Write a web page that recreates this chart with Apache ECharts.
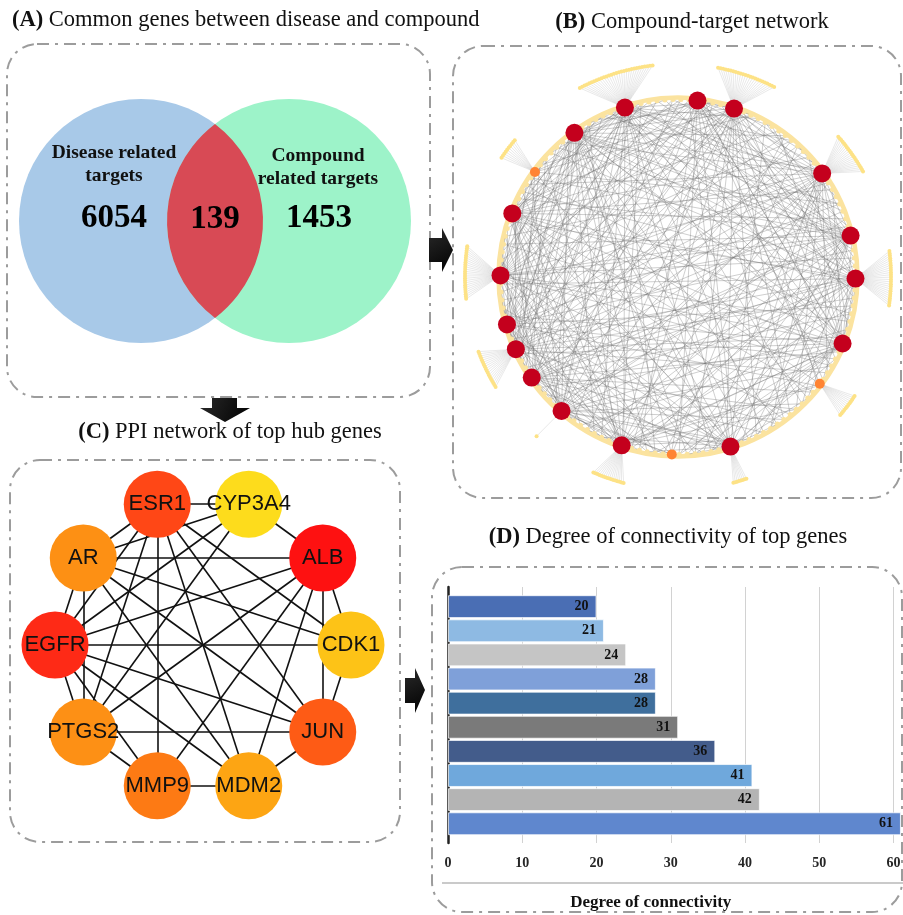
<!DOCTYPE html>
<html>
<head>
<meta charset="utf-8">
<script src="https://cdn.jsdelivr.net/npm/echarts@6/dist/echarts.min.js"></script>
<style>
html, body { margin: 0; padding: 0; background: #ffffff; }
#main { width: 903px; height: 915px; }
</style>
</head>
<body>
<div id="main"></div>
<script>
// ---------- (A) overlap of target sets ----------
const vennSetNames = ['Disease related\ntargets', 'Compound\nrelated targets'];
const vennOnlyCounts = [6054, 1453];
const vennSharedCount = 139;

// ---------- (B) compound-target network ----------
const ringTargetCount = 139;
const compoundNames = ['M1', 'M2', 'M3', 'M4', 'M5', 'M6', 'M7', 'M8', 'M9', 'M10', 'M11', 'M12', 'M13', 'M14', 'M15', 'M16'];
const minorCompoundNames = ['N1', 'N2', 'N3'];
// ring targets (by index) that each compound is linked to
const compoundTargets = [
  [3, 8, 12, 19, 24, 30, 46, 52, 58, 61, 66, 75, 79, 83, 88, 94, 97, 101, 108, 115, 121, 127, 133],
  [1, 6, 15, 22, 27, 49, 55, 63, 70, 77, 86, 90, 99, 104, 111, 118, 125, 130, 136],
  [2, 10, 17, 25, 33, 45, 54, 60, 67, 73, 80, 85, 92, 98, 103, 106, 110, 114, 119, 124, 128, 135],
  [0, 4, 9, 14, 20, 26, 31, 36, 39, 62, 68, 74, 78, 81, 87, 93, 96, 100, 105, 109, 113, 117, 122, 131, 137],
  [5, 18, 28, 35, 41, 44, 50, 57, 64, 71, 76, 82, 89, 95, 102, 107, 112, 116, 120, 126, 132],
  [7, 11, 16, 21, 29, 34, 38, 42, 47, 53, 84, 91, 97, 101, 106, 111, 118, 123, 129, 134, 138],
  [23, 32, 37, 40, 43, 48, 51, 56, 59, 65, 69, 72, 83, 87, 93, 99, 104, 108, 113, 116, 121],
  [2, 6, 12, 19, 25, 30, 35, 40, 45, 50, 55, 59, 64, 88, 95, 103, 110, 119, 127, 133],
  [14, 22, 29, 36, 43, 52, 58, 62, 70, 77, 81, 86, 92, 98, 105, 114, 122, 125, 130],
  [3, 9, 15, 20, 27, 33, 39, 46, 51, 57, 63, 68, 72, 80, 89, 96, 100, 124, 128, 135],
  [1, 8, 13, 18, 24, 31, 37, 44, 49, 54, 60, 66, 71, 75, 82, 107, 117, 126, 131, 136],
  [0, 5, 10, 17, 23, 28, 34, 41, 47, 53, 61, 67, 73, 78, 85, 90, 94, 102, 109, 115, 120, 123, 129, 134],
  [4, 11, 16, 21, 26, 32, 38, 42, 48, 56, 65, 69, 74, 79, 84, 91, 97, 101, 104, 106, 108, 111, 137],
  [7, 13, 19, 27, 35, 40, 49, 56, 61, 64, 70, 76, 83, 99, 103, 112, 118, 121, 127, 132, 138],
  [2, 12, 20, 30, 39, 46, 53, 58, 62, 67, 74, 81, 87, 92, 113, 120, 124, 130, 135],
  [6, 14, 23, 33, 41, 50, 55, 60, 68, 73, 77, 85, 88, 94, 100, 105, 117, 122, 128]
];
const minorCompoundTargets = [
  [9, 25, 44, 80],
  [31, 57, 96],
  [18, 47, 89]
];
// compounds with extra targets that only they hit, and how many
const fanHosts = ['M1', 'M3', 'N1', 'M5', 'M8', 'M9', 'M11', 'N2', 'M15', 'M16', 'M14'];
const fanLeafCounts = [30, 24, 10, 20, 24, 24, 18, 12, 16, 8, 1];

// ---------- (C) PPI network of hub genes ----------
const ppiGenes = ['ESR1', 'CYP3A4', 'ALB', 'CDK1', 'JUN', 'MDM2', 'MMP9', 'PTGS2', 'EGFR', 'AR'];
const ppiInteractions = [
  ['ESR1', 'CYP3A4'], ['ESR1', 'AR'], ['ESR1', 'EGFR'], ['ESR1', 'PTGS2'], ['ESR1', 'MMP9'],
  ['ESR1', 'MDM2'], ['ESR1', 'JUN'], ['ESR1', 'CDK1'],
  ['CYP3A4', 'ALB'], ['CYP3A4', 'EGFR'], ['CYP3A4', 'PTGS2'], ['CYP3A4', 'AR'],
  ['ALB', 'AR'], ['ALB', 'EGFR'], ['ALB', 'CDK1'], ['ALB', 'JUN'], ['ALB', 'MDM2'], ['ALB', 'MMP9'], ['ALB', 'PTGS2'],
  ['CDK1', 'EGFR'], ['CDK1', 'JUN'], ['CDK1', 'AR'],
  ['JUN', 'PTGS2'], ['JUN', 'MDM2'], ['JUN', 'EGFR'], ['JUN', 'AR'],
  ['MDM2', 'MMP9'], ['MDM2', 'EGFR'], ['MDM2', 'AR'],
  ['MMP9', 'PTGS2'], ['MMP9', 'EGFR'],
  ['PTGS2', 'EGFR'], ['PTGS2', 'AR'],
  ['EGFR', 'AR']
];

// ---------- (D) degree of the top genes ----------
const degreeRanks = ['#10', '#9', '#8', '#7', '#6', '#5', '#4', '#3', '#2', '#1'];
const degreeValues = [20, 21, 24, 28, 28, 31, 36, 41, 42, 61];
const degreeTicks = [0, 10, 20, 30, 40, 50, 60];

// ================= styling & layout =================
const SERIF = '"Liberation Serif", "Times New Roman", serif';
const SANS = '"Liberation Sans", Arial, sans-serif';
const TITLE_SIZE = 22.5;

const vennFills = ['#A8C9E8', '#9DF3C9'];
const vennSharedFill = '#D84A55';
const vennRadius = 122;

// angular placement of the compounds on the network ring (degrees, counter-clockwise from east)
const compoundAngles = [107.4, 83.7, 71.6, 125.7, 35.7, 159, 13.5, 179.5, 359.5, 195.5, 204, 214.5, 338, 229, 251.5, 287.2];
const minorCompoundAngles = [143.7, 323, 268];
const fanSpans = [[96.5, 117.8], [62.8, 79.5], [139.7, 146.3], [29.4, 41.5], [171.4, 186.2], [-8, 7.3],
                  [200.2, 211.4], [-40.7, -33.7], [246.3, 255.5], [284.8, 289], [228.4, 228.4]];

const ppiColors = {
  ESR1: '#FF4716', CYP3A4: '#FDDC1C', ALB: '#FE1111', CDK1: '#FDC317', JUN: '#FE5B15',
  MDM2: '#FDA513', MMP9: '#FD7A14', PTGS2: '#FD9015', EGFR: '#FE2A16', AR: '#FD9014'
};
const barColors = ['#4A6EB4', '#8EBAE3', '#C5C5C5', '#7FA0D9', '#3F6F9D', '#7A7A7A', '#435C8B', '#6FA8DC', '#B4B4B4', '#5F87CE'];
const ringColor = '#FBE39F';
const leafColor = '#FDE286';

// ---------- build network (B) ----------
const norm = a => ((a % 360) + 360) % 360;
const netNodes = [];
const netLinks = [];
for (let i = 0; i < ringTargetCount; i++) {
  netNodes.push({ name: 'T' + i, value: [1, norm(i * 360 / ringTargetCount + 1)], symbolSize: 5,
                  itemStyle: { color: ringColor } });
}
fanHosts.forEach((host, f) => {
  const n = fanLeafCounts[f];
  const [a0, a1] = fanSpans[f];
  for (let j = 0; j < n; j++) {
    const name = 'L' + f + '_' + j;
    netNodes.push({ name, value: [1.2, norm(a0 + (a1 - a0) * (j + 0.5) / n)], symbolSize: 4,
                    itemStyle: { color: leafColor } });
    netLinks.push({ source: host, target: name, lineStyle: { color: '#c4c4c4', opacity: 0.55, width: 0.7 } });
  }
});
minorCompoundNames.forEach((name, k) => {
  netNodes.push({ name, value: [1, norm(minorCompoundAngles[k])], symbolSize: 10, itemStyle: { color: '#FF8433' } });
  minorCompoundTargets[k].forEach(t => netLinks.push({ source: name, target: 'T' + t }));
});
compoundNames.forEach((name, k) => {
  netNodes.push({ name, value: [1, norm(compoundAngles[k])], symbolSize: 18, itemStyle: { color: '#C4001D' } });
  compoundTargets[k].forEach(t => netLinks.push({ source: name, target: 'T' + t }));
});

// ---------- build PPI (C) ----------
const ppiNodes = ppiGenes.map((g, i) => ({
  name: g, value: [1, i], symbolSize: 67, itemStyle: { color: ppiColors[g] }
}));
const ppiLinks = ppiInteractions.map(([s, t]) => ({ source: s, target: t }));

// ---------- decorative frames, arrows and panel titles ----------
function frame(x, y, w, h) {
  return { type: 'rect', silent: true, z: -1,
    shape: { x, y, width: w, height: h, r: 30 },
    style: { fill: 'none', stroke: '#9c9c9c', lineWidth: 2, lineDash: [12, 6, 3, 6] } };
}
function arrow(points) {
  return { type: 'polygon', silent: true,
    shape: { points },
    style: { fill: new echarts.graphic.LinearGradient(0, 0, 1, 1, [
      { offset: 0, color: '#2a2a2a' }, { offset: 1, color: '#000000' }]) } };
}
function panelTitle(tag, text, x, y, align) {
  return { type: 'text', silent: true, x, y,
    style: { text: '{b|' + tag + '} ' + text, align, verticalAlign: 'middle',
      fontFamily: SERIF, fontSize: TITLE_SIZE, fill: '#111',
      rich: { b: { fontFamily: SERIF, fontSize: TITLE_SIZE, fontWeight: 'bold', fill: '#111' } } } };
}

const chart = echarts.init(document.getElementById('main'), null, { renderer: 'canvas' });

const option = {
  animation: false,
  backgroundColor: '#ffffff',
  graphic: [
    frame(7, 44, 423, 353),
    frame(453, 46, 448, 452),
    frame(10, 460, 390, 382),
    frame(432, 567, 470, 345),
    arrow([[429, 238], [442, 238], [442, 228], [453, 250], [442, 272], [442, 262], [429, 262]]),
    arrow([[212, 398], [237, 398], [237, 408], [250, 408], [225, 422], [200, 408], [212, 408]]),
    arrow([[405, 678], [415, 678], [415, 668], [425, 690], [415, 713], [415, 703], [405, 703]]),
    panelTitle('(A)', 'Common genes between disease and compound', 12, 20, 'left'),
    panelTitle('(B)', 'Compound-target network', 692, 22, 'center'),
    panelTitle('(C)', 'PPI network of top hub genes', 230, 432, 'center'),
    panelTitle('(D)', 'Degree of connectivity of top genes', 668, 537, 'center'),
    { type: 'line', silent: true, shape: { x1: 442, y1: 883, x2: 903, y2: 883 },
      style: { stroke: '#cacaca', lineWidth: 2 } }
  ],
  grid: [
    // Venn canvas: x = 0 is the disease set centre, x = 1 the compound set centre
    { left: 141, width: 148, top: 99, height: 244, outerBoundsMode: 'none' },
    // bar-chart frame (axis line, ticks and grid lines)
    { left: 448, right: 9.5, top: 587, height: 256, outerBoundsMode: 'none' },
    // bars
    { left: 448, right: 9.5, top: 594.6, height: 241.2, outerBoundsMode: 'none' }
  ],
  xAxis: [
    { gridIndex: 0, type: 'value', min: 0, max: 1, show: false },
    { gridIndex: 1, type: 'value', min: degreeTicks[0], max: degreeTicks[degreeTicks.length - 1], interval: 10,
      axisLine: { show: false }, axisTick: { show: false },
      axisLabel: { margin: 13, fontFamily: SERIF, fontSize: 14, fontWeight: 'bold', color: '#262626' },
      splitLine: { show: true, lineStyle: { color: '#d2d2d2', width: 1 } },
      name: 'Degree of connectivity', nameLocation: 'middle', nameGap: 51,
      nameTextStyle: { fontFamily: SERIF, fontSize: 17, fontWeight: 'bold', color: '#111', padding: [0, 40, 0, 0] } },
    { gridIndex: 2, type: 'value', min: 0, max: 60, show: false }
  ],
  yAxis: [
    { gridIndex: 0, type: 'value', min: -1, max: 1, show: false },
    { gridIndex: 1, type: 'value', min: 0, max: 1,
      axisLine: { show: true, lineStyle: { color: '#222', width: 2.5 } },
      axisTick: { show: false }, axisLabel: { show: false }, splitLine: { show: false } },
    { gridIndex: 2, type: 'category', data: degreeRanks, inverse: true, show: false }
  ],
  polar: [
    { center: [678, 277], radius: 213 },
    { center: [203, 645], radius: 148 },
    // pale ring along which the shared targets sit
    { center: [678, 277], radius: 179.5 }
  ],
  angleAxis: [
    { polarIndex: 0, type: 'value', min: 0, max: 360, startAngle: 0, clockwise: false, show: false },
    { polarIndex: 1, type: 'value', min: 0, max: ppiGenes.length, startAngle: 108, clockwise: true, show: false },
    { polarIndex: 2, type: 'value', min: 0, max: 360, startAngle: 0, clockwise: false, silent: true,
      axisLine: { show: true, lineStyle: { color: ringColor, width: 4.5 } },
      axisTick: { show: false }, axisLabel: { show: false }, splitLine: { show: false } }
  ],
  radiusAxis: [
    { polarIndex: 0, type: 'value', min: 0, max: 1.2, show: false },
    { polarIndex: 1, type: 'value', min: 0, max: 1, show: false },
    { polarIndex: 2, type: 'value', min: 0, max: 1, show: false }
  ],
  series: [
    {
      type: 'custom', name: 'venn', xAxisIndex: 0, yAxisIndex: 0, silent: true,
      data: [[0, vennOnlyCounts[0]], [1, vennOnlyCounts[1]], [0.5, vennSharedCount]],
      renderItem(params, api) {
        const i = params.dataIndex;
        const cL = api.coord([0, 0]);
        const cR = api.coord([1, 0]);
        const R = vennRadius;
        const numFont = 'bold 33px ' + SERIF;
        const nameFont = 'bold 19.5px ' + SERIF;
        if (i === 0 || i === 1) {
          const c = i === 0 ? cL : cR;
          const dx = i === 0 ? -27 : 30;
          return { type: 'group', children: [
            { type: 'circle', shape: { cx: c[0], cy: c[1], r: R }, style: { fill: vennFills[i] } },
            { type: 'text', x: c[0] + dx + (i === 0 ? 0 : -1), y: c[1] + (i === 0 ? -57 : -54),
              style: { text: vennSetNames[i], font: nameFont, fill: '#111', align: 'center',
                       verticalAlign: 'middle', lineHeight: 23 } },
            { type: 'text', x: c[0] + dx, y: c[1] - 3,
              style: { text: String(api.value(1)), font: numFont, fill: '#000', align: 'center', verticalAlign: 'middle' } }
          ] };
        }
        const mx = (cL[0] + cR[0]) / 2;
        const d = (cR[0] - cL[0]) / 2;
        const h = Math.sqrt(R * R - d * d);
        const cy = cL[1];
        const path = 'M' + mx + ' ' + (cy - h) +
          ' A' + R + ' ' + R + ' 0 0 1 ' + mx + ' ' + (cy + h) +
          ' A' + R + ' ' + R + ' 0 0 1 ' + mx + ' ' + (cy - h) + ' Z';
        return { type: 'group', children: [
          { type: 'path', shape: { pathData: path }, style: { fill: vennSharedFill } },
          { type: 'text', x: mx, y: cy - 2,
            style: { text: String(api.value(1)), font: numFont, fill: '#000', align: 'center', verticalAlign: 'middle' } }
        ] };
      }
    },
    {
      type: 'graph', name: 'compound-target', coordinateSystem: 'polar', polarIndex: 0,
      silent: true, animation: false,
      data: netNodes, links: netLinks,
      lineStyle: { color: '#6e6e6e', width: 0.8, opacity: 0.42, curveness: 0 },
      emphasis: { disabled: true }
    },
    {
      type: 'graph', name: 'ppi', coordinateSystem: 'polar', polarIndex: 1,
      silent: true, animation: false,
      data: ppiNodes, links: ppiLinks,
      lineStyle: { color: '#111', width: 1.6, opacity: 1, curveness: 0 },
      label: { show: true, position: 'inside', color: '#111', fontFamily: SANS, fontSize: 22 },
      emphasis: { disabled: true }
    },
    {
      type: 'bar', name: 'degree', xAxisIndex: 2, yAxisIndex: 2,
      clip: false, barCategoryGap: '5%', silent: true,
      data: degreeValues.map((v, i) => ({ value: v, itemStyle: { color: barColors[i] } })),
      itemStyle: { borderColor: 'rgba(255,255,255,0.7)', borderWidth: 1 },
      label: { show: true, position: 'insideRight', distance: 8, formatter: '{c}',
               fontFamily: SERIF, fontSize: 14, fontWeight: 'bold', color: '#111' }
    }
  ]
};

chart.setOption(option);
</script>
</body>
</html>
